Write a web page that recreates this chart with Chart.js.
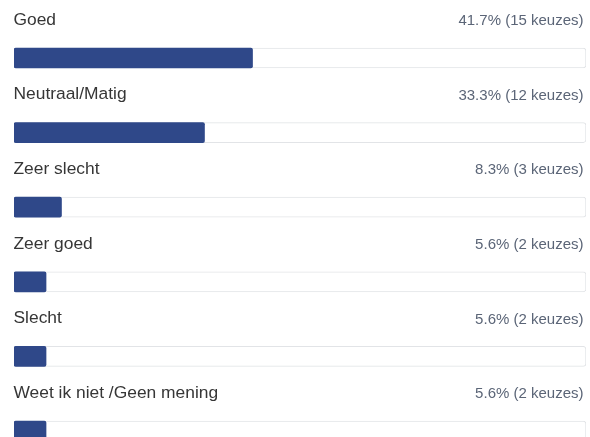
<!DOCTYPE html>
<html>
<head>
<meta charset="utf-8">
<script src="https://cdn.jsdelivr.net/npm/chart.js@4.4.0/dist/chart.umd.min.js"></script>
<style>
  html, body { margin: 0; padding: 0; background: #ffffff; }
  #wrap { width: 590px; height: 437px; overflow: hidden; position: relative; }
  canvas { display: block; }
</style>
</head>
<body>
<div id="wrap"><canvas id="c" width="590" height="470"></canvas></div>
<script>
const categories = ["Goed", "Neutraal/Matig", "Zeer slecht", "Zeer goed", "Slecht", "Weet ik niet /Geen mening"];
const percentages = [41.7, 33.3, 8.3, 5.6, 5.6, 5.6];
const counts = [15, 12, 3, 2, 2, 2];
const trackValues = [100, 100, 100, 100, 100, 100];

const FONT = "'Liberation Sans', Arial, Helvetica, sans-serif";

const labelPlugin = {
  id: 'rowLabels',
  afterDatasetsDraw(chart) {
    const ctx = chart.ctx;
    const ys = chart.scales.y;
    const area = chart.chartArea;
    ctx.save();
    ctx.textBaseline = 'middle';
    categories.forEach((cat, i) => {
      const y = ys.getPixelForValue(i);
      ctx.font = '17.4px ' + FONT;
      ctx.fillStyle = '#363636';
      ctx.textAlign = 'left';
      ctx.fillText(cat, area.left - 0.5, y - 38);
      ctx.font = '15px ' + FONT;
      ctx.fillStyle = '#5b6577';
      ctx.textAlign = 'right';
      ctx.fillText(percentages[i] + '% (' + counts[i] + ' keuzes)', area.right - 2.5, y - 37);
    });
    ctx.restore();
  }
};

new Chart(document.getElementById('c'), {
  type: 'bar',
  data: {
    labels: categories,
    datasets: [
      {
        data: percentages,
        backgroundColor: '#2f4889',
        borderWidth: 0,
        borderRadius: 2,
        borderSkipped: false,
        barThickness: 20,
        grouped: false,
        order: 0
      },
      {
        data: trackValues,
        backgroundColor: '#ffffff',
        borderColor: '#e2e4e7',
        borderWidth: 1,
        borderRadius: 3,
        borderSkipped: false,
        barThickness: 20,
        grouped: false,
        order: 1
      }
    ]
  },
  options: {
    indexAxis: 'y',
    responsive: false,
    animation: false,
    devicePixelRatio: 1,
    layout: { padding: { left: 14, right: 4, top: 20.7, bottom: 1.7 } },
    scales: {
      x: { display: false, min: 0, max: 100 },
      y: { display: false }
    },
    plugins: {
      legend: { display: false },
      tooltip: { enabled: false }
    }
  },
  plugins: [labelPlugin]
});
</script>
</body>
</html>
